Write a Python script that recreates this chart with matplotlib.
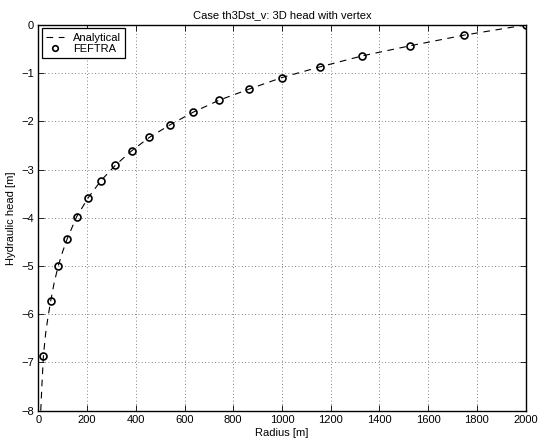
import matplotlib
matplotlib.use("Agg")
import matplotlib.pyplot as plt

plt.rcParams['font.family'] = ['Liberation Sans', 'DejaVu Sans']

# analytical solution
r_analytical = [10, 15, 21, 30, 40, 51, 65, 82, 100, 119, 157, 205, 257, 316, 383,
                456, 541, 635, 742, 865, 1000, 1155, 1330, 1527, 1748, 2000]
h_analytical = [-8.0, -7.45, -6.86, -6.4, -6.05, -5.72, -5.35, -4.99, -4.7, -4.43,
                -3.98, -3.58, -3.23, -2.91, -2.61, -2.33, -2.07, -1.81, -1.56,
                -1.33, -1.09, -0.87, -0.64, -0.43, -0.21, 0.0]

# FEFTRA results (circles)
r_feftra = [21, 51, 82, 119, 157, 205, 257, 316, 383, 456, 541, 635, 742, 865,
            1000, 1155, 1330, 1527, 1748, 2000]
h_feftra = [-6.86, -5.72, -4.99, -4.43, -3.98, -3.58, -3.23, -2.91, -2.61, -2.33,
            -2.07, -1.81, -1.56, -1.33, -1.09, -0.87, -0.64, -0.43, -0.21, 0.0]

fig = plt.figure(figsize=(5.38, 4.43), dpi=100)
ax = fig.add_axes([0.0712, 0.0729, 0.9058, 0.8707])

ax.plot(r_analytical, h_analytical, color='black', linestyle=(0, (6, 5)),
        linewidth=0.8, label='Analytical')
ax.plot(r_feftra, h_feftra, linestyle='none', marker='o', markersize=5,
        markerfacecolor='none', markeredgecolor='black', markeredgewidth=1.2,
        label='FEFTRA')

ax.set_xlim(0, 2000)
ax.set_ylim(-8, 0)
ax.set_xticks(range(0, 2001, 200))
ax.set_yticks(range(-8, 1, 1))
ax.tick_params(direction='in', top=True, right=True, labelsize=8, length=4,
               width=0.6, pad=3)
ax.grid(True, linestyle=(0, (1, 3)), color='0.35', linewidth=0.6)
for s in ax.spines.values():
    s.set_linewidth(1.0)

ax.set_xlabel('Radius [m]', fontsize=8, labelpad=2)
ax.set_ylabel('Hydraulic head [m]', fontsize=8, labelpad=4)
ax.set_title('Case th3Dst_v: 3D head with vertex', fontsize=8, pad=5)

leg = ax.legend(loc='upper left', fontsize=8, fancybox=False, framealpha=1,
                edgecolor='black', borderaxespad=0.3, handlelength=1.6,
                handletextpad=0.8, borderpad=0.4, labelspacing=0.1,
                markerscale=0.8)
leg.get_frame().set_linewidth(0.9)

fig.savefig('out.png', dpi=100)
